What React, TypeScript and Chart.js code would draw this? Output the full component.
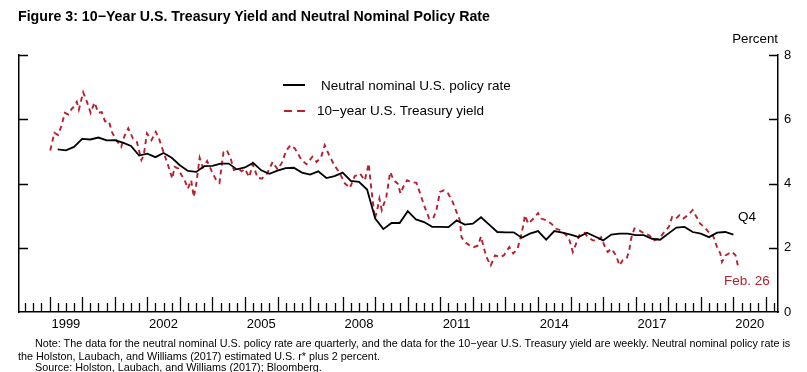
import React, { useEffect, useRef } from "react";
import { Chart, registerables } from "chart.js";

Chart.register(...registerables);

// ---------- DATA ----------
const policyStartYear = 1999; // first quarter: 1999Q1
const policyRate = [
  5.06, 5.03, 5.14, 5.39,
  5.37, 5.43, 5.34, 5.35,
  5.27, 5.17, 4.87, 4.93,
  4.82, 4.95, 4.80, 4.57,
  4.39, 4.36, 4.54, 4.55,
  4.62, 4.62, 4.44, 4.50,
  4.64, 4.41, 4.30, 4.40,
  4.48, 4.49, 4.34, 4.28,
  4.38, 4.17, 4.23, 4.34,
  4.08, 4.05, 3.81, 2.91,
  2.58, 2.77, 2.77, 3.14,
  2.88, 2.80, 2.65, 2.65,
  2.64, 2.85, 2.72, 2.75,
  2.95, 2.72, 2.49, 2.48,
  2.48, 2.31, 2.44, 2.52,
  2.25, 2.52, 2.47, 2.41,
  2.33, 2.47, 2.35, 2.23,
  2.41, 2.44, 2.44, 2.39,
  2.39, 2.28, 2.25, 2.44,
  2.63, 2.65, 2.49, 2.44,
  2.33, 2.47, 2.49, 2.41,
];

const yieldDates = [
  "1999-01-08", "1999-02-24", "1999-04-05", "1999-05-15", "1999-06-20", "1999-07-30",
  "1999-09-05", "1999-10-12", "1999-11-02", "1999-11-25", "1999-12-20", "2000-01-12",
  "2000-02-24", "2000-04-05", "2000-05-19", "2000-07-01", "2000-08-08", "2000-09-13",
  "2000-10-27", "2000-12-01", "2001-01-19", "2001-03-15", "2001-04-20", "2001-06-02",
  "2001-07-24", "2001-09-06", "2001-10-27", "2001-11-22", "2001-12-28", "2002-02-17",
  "2002-04-06", "2002-05-12", "2002-07-02", "2002-08-22", "2002-10-08", "2002-11-03",
  "2002-12-13", "2003-01-19", "2003-02-24", "2003-04-01", "2003-05-08", "2003-06-06",
  "2003-07-02", "2003-08-11", "2003-09-16", "2003-11-03", "2003-12-20", "2004-02-13",
  "2004-03-20", "2004-05-05", "2004-06-10", "2004-07-24", "2004-08-29", "2004-10-19",
  "2004-11-24", "2005-01-01", "2005-02-17", "2005-03-30", "2005-05-23", "2005-07-09",
  "2005-09-06", "2005-11-07", "2006-01-01", "2006-02-18", "2006-04-08", "2006-05-26",
  "2006-07-14", "2006-09-28", "2006-11-22", "2007-01-26", "2007-03-15", "2007-05-05",
  "2007-06-14", "2007-07-31", "2007-09-27", "2007-11-24", "2008-01-26", "2008-03-22",
  "2008-05-16", "2008-07-14", "2008-09-06", "2008-10-20", "2008-11-18", "2008-12-28",
  "2009-01-19", "2009-02-17", "2009-03-15", "2009-05-05", "2009-06-18", "2009-07-28",
  "2009-09-10", "2009-10-12", "2009-11-10", "2009-12-24", "2010-02-10", "2010-04-08",
  "2010-06-02", "2010-07-09", "2010-08-29", "2010-10-12", "2010-11-18", "2010-12-28",
  "2011-02-10", "2011-03-29", "2011-05-19", "2011-07-02", "2011-08-08", "2011-08-26",
  "2011-10-01", "2011-11-28", "2012-01-11", "2012-02-28", "2012-04-01", "2012-05-05",
  "2012-06-10", "2012-07-20", "2012-09-06", "2012-10-31", "2012-12-13", "2013-02-13",
  "2013-03-29", "2013-05-16", "2013-06-21", "2013-07-20", "2013-08-08", "2013-09-13",
  "2013-11-10", "2014-01-01", "2014-02-06", "2014-04-05", "2014-05-30", "2014-07-24",
  "2014-09-17", "2014-11-14", "2014-12-20", "2015-01-26", "2015-03-04", "2015-04-09",
  "2015-06-07", "2015-07-13", "2015-09-06", "2015-11-03", "2015-12-09", "2016-01-15",
  "2016-02-21", "2016-04-01", "2016-05-26", "2016-07-02", "2016-08-08", "2016-09-21",
  "2016-10-20", "2016-11-10", "2016-12-17", "2017-02-10", "2017-04-08", "2017-06-02",
  "2017-07-27", "2017-09-20", "2017-11-17", "2018-01-08", "2018-02-13", "2018-03-29",
  "2018-05-05", "2018-06-18", "2018-08-08", "2018-10-01", "2018-11-14", "2018-12-24",
  "2019-02-06", "2019-03-29", "2019-05-16", "2019-07-02", "2019-08-08", "2019-08-26",
  "2019-10-05", "2019-11-10", "2019-12-20", "2020-01-26", "2020-02-26",
];
const yieldValues = [
  5.03, 5.58, 5.51, 5.80, 6.20, 6.15,
  6.32, 6.42, 6.54, 6.30, 6.58, 6.84,
  6.54, 6.20, 6.52, 6.20, 6.22, 5.94,
  5.94, 5.60, 5.35, 5.14, 5.48, 5.72,
  5.40, 5.30, 4.73, 4.88, 5.56, 5.35,
  5.61, 5.40, 4.98, 4.57, 4.15, 4.52,
  4.47, 4.26, 4.10, 3.84, 4.10, 3.58,
  3.95, 4.80, 4.50, 4.70, 4.41, 4.10,
  4.02, 4.98, 5.04, 4.78, 4.42, 4.47,
  4.38, 4.45, 4.20, 4.60, 4.18, 4.15,
  4.31, 4.67, 4.44, 4.64, 5.02, 5.19,
  5.09, 4.73, 4.60, 4.83, 4.67, 4.83,
  5.19, 4.90, 4.58, 4.35, 4.00, 3.86,
  4.23, 4.31, 4.10, 4.62, 3.84, 2.91,
  3.11, 3.53, 3.17, 3.58, 4.36, 4.10,
  4.00, 3.69, 3.89, 4.10, 4.05, 4.02,
  3.58, 3.27, 2.91, 2.91, 3.17, 3.74,
  3.79, 3.69, 3.43, 3.11, 2.85, 2.33,
  2.18, 2.07, 2.02, 2.07, 2.35, 1.97,
  1.66, 1.45, 1.76, 1.71, 1.76, 2.02,
  1.82, 1.97, 2.33, 2.70, 3.01, 2.75,
  2.91, 3.08, 2.91, 2.85, 2.75, 2.59,
  2.54, 2.39, 2.23, 1.87, 2.13, 2.39,
  2.46, 2.33, 2.23, 2.23, 2.33, 2.07,
  1.87, 1.97, 1.76, 1.45, 1.61, 1.66,
  1.92, 2.28, 2.60, 2.54, 2.44, 2.39,
  2.23, 2.28, 2.49, 2.65, 2.96, 2.91,
  3.01, 2.91, 3.01, 3.17, 2.96, 2.75,
  2.65, 2.49, 2.39, 2.02, 1.82, 1.56,
  1.76, 1.82, 1.87, 1.76, 1.38,
];

const yearLabels = [1999, 2002, 2005, 2008, 2011, 2014, 2017, 2020];
const yTickValues = [0, 2, 4, 6, 8];
const xRange = [1998.06, 2021.37];

const seriesNames = ["Neutral nominal U.S. policy rate", "10\u2212year U.S. Treasury yield"];
const titleText = "Figure 3: 10\u2212Year U.S. Treasury Yield and Neutral Nominal Policy Rate";
const noteLines = [
  "Note: The data for the neutral nominal U.S. policy rate are quarterly, and the data for the 10\u2212year U.S. Treasury yield are weekly. Neutral nominal policy rate is",
  "the Holston, Laubach, and Williams (2017) estimated U.S. r* plus 2 percent.",
  "Source: Holston, Laubach, and Williams (2017); Bloomberg.",
];

const RED = "#B8202E";
const FONT = "'Liberation Sans', Arial, Helvetica, sans-serif";

// ---------- helpers ----------
function decimalYear(s: string): number {
  const [y, m, d] = s.split("-").map(Number);
  const start = Date.UTC(y, 0, 1);
  const end = Date.UTC(y + 1, 0, 1);
  return y + (Date.UTC(y, m - 1, d) - start) / (end - start);
}

const axisTicksPlugin = {
  id: "axisTicks",
  afterDraw(chart: any) {
    const { ctx, chartArea } = chart;
    const { left, right, bottom } = chartArea;
    const x = chart.scales.x;
    const y = chart.scales.y;
    ctx.save();
    ctx.strokeStyle = "#000";
    ctx.lineWidth = 1.3;
    ctx.beginPath();
    for (let q = Math.ceil(x.min * 4); q <= Math.floor(x.max * 4); q++) {
      const px = Math.round(x.getPixelForValue(q / 4)) + 0.5;
      if (px <= left + 1 || px >= right - 1) continue;
      const len = q % 4 === 0 ? 15 : 9;
      ctx.moveTo(px, bottom);
      ctx.lineTo(px, bottom - len);
    }
    for (const v of yTickValues) {
      if (v === 0) continue;
      const py = Math.round(y.getPixelForValue(v)) + 0.5;
      ctx.moveTo(left, py);
      ctx.lineTo(left + 9, py);
      ctx.moveTo(right, py);
      ctx.lineTo(right - 9, py);
    }
    ctx.stroke();
    ctx.restore();
  },
};

export default function App() {
  const canvasRef = useRef<HTMLCanvasElement | null>(null);

  useEffect(() => {
    const canvas = canvasRef.current;
    if (!canvas) return;
    const policyPoints = policyRate.map((v, i) => ({
      x: policyStartYear + Math.floor(i / 4) + ((i % 4) + 1) / 4,
      y: v,
    }));
    const yieldPoints = yieldDates.map((d, i) => ({ x: decimalYear(d), y: yieldValues[i] }));

    const chart = new Chart(canvas, {
      type: "line",
      data: {
        datasets: [
          {
            label: seriesNames[0],
            data: policyPoints,
            borderColor: "#000",
            borderWidth: 1.8,
            pointRadius: 0,
            tension: 0,
          },
          {
            label: seriesNames[1],
            data: yieldPoints,
            borderColor: RED,
            borderWidth: 1.9,
            borderDash: [5, 4],
            pointRadius: 0,
            tension: 0,
          },
        ],
      },
      options: {
        animation: false,
        responsive: false,
        devicePixelRatio: 1,
        layout: { padding: { top: 55, left: 0, right: 0, bottom: 0 } },
        plugins: { legend: { display: false }, tooltip: { enabled: false } },
        scales: {
          x: {
            type: "linear",
            position: "bottom",
            min: xRange[0],
            max: xRange[1],
            afterBuildTicks: (scale: any) => {
              scale.ticks = yearLabels.map((yv) => ({ value: yv + 0.5 }));
            },
            afterFit: (scale: any) => {
              scale.height = 60;
            },
            ticks: {
              autoSkip: false,
              maxRotation: 0,
              padding: 5,
              color: "#000",
              font: { family: FONT, size: 13 },
              callback: (v: any) => String(Math.floor(Number(v))),
            },
            grid: { display: false, drawTicks: false },
            border: { display: true, color: "#000", width: 1.5 },
          },
          y: {
            type: "linear",
            position: "right",
            min: 0,
            max: 8,
            afterBuildTicks: (scale: any) => {
              scale.ticks = yTickValues.map((v) => ({ value: v }));
            },
            afterFit: (scale: any) => {
              scale.width = 29;
            },
            ticks: {
              padding: 6,
              color: "#000",
              font: { family: FONT, size: 13 },
            },
            grid: { drawOnChartArea: false, drawTicks: false },
            border: { display: true, color: "#000", width: 1.5 },
          },
          yl: {
            type: "linear",
            position: "left",
            min: 0,
            max: 8,
            afterFit: (scale: any) => {
              scale.width = 19;
            },
            ticks: { display: false },
            grid: { drawOnChartArea: false, drawTicks: false },
            border: { display: true, color: "#000", width: 1.5 },
          },
        },
      },
      plugins: [axisTicksPlugin],
    } as any);
    return () => chart.destroy();
  }, []);

  const txt: React.CSSProperties = {
    position: "absolute",
    whiteSpace: "nowrap",
    fontFamily: FONT,
    fontSize: 13.5,
    lineHeight: "15px",
    color: "#000",
  };
  const note: React.CSSProperties = { ...txt, fontSize: 10.8, lineHeight: "12px" };

  return (
    <div style={{ position: "absolute", left: 0, top: 0, width: 807, height: 372, background: "#fff", overflow: "hidden" }}>
      <canvas ref={canvasRef} width={807} height={372} style={{ position: "absolute", left: 0, top: 0 }} />
      <div style={{ ...txt, left: 18, top: 9, fontWeight: "bold", fontSize: 14.2 }}>{titleText}</div>
      <div style={{ ...txt, right: 807 - 778, top: 31, fontSize: 13.3 }}>Percent</div>
      {/* legend */}
      <div style={{ position: "absolute", left: 283, top: 83.5, width: 22, height: 2, background: "#000" }} />
      <div style={{ ...txt, left: 321, top: 77.5 }}>{seriesNames[0]}</div>
      <div style={{ position: "absolute", left: 284, top: 109.5, width: 8, height: 2, background: RED }} />
      <div style={{ position: "absolute", left: 297, top: 109.5, width: 8, height: 2, background: RED }} />
      <div style={{ ...txt, left: 317, top: 103 }}>{seriesNames[1]}</div>
      {/* annotations */}
      <div style={{ ...txt, left: 738, top: 208.5 }}>Q4</div>
      <div style={{ ...txt, left: 724, top: 272.5, color: RED }}>Feb. 26</div>
      {/* notes */}
      <div style={{ ...note, left: 35, top: 337 }}>{noteLines[0]}</div>
      <div style={{ ...note, left: 18, top: 350 }}>{noteLines[1]}</div>
      <div style={{ ...note, left: 35, top: 361 }}>{noteLines[2]}</div>
    </div>
  );
}
